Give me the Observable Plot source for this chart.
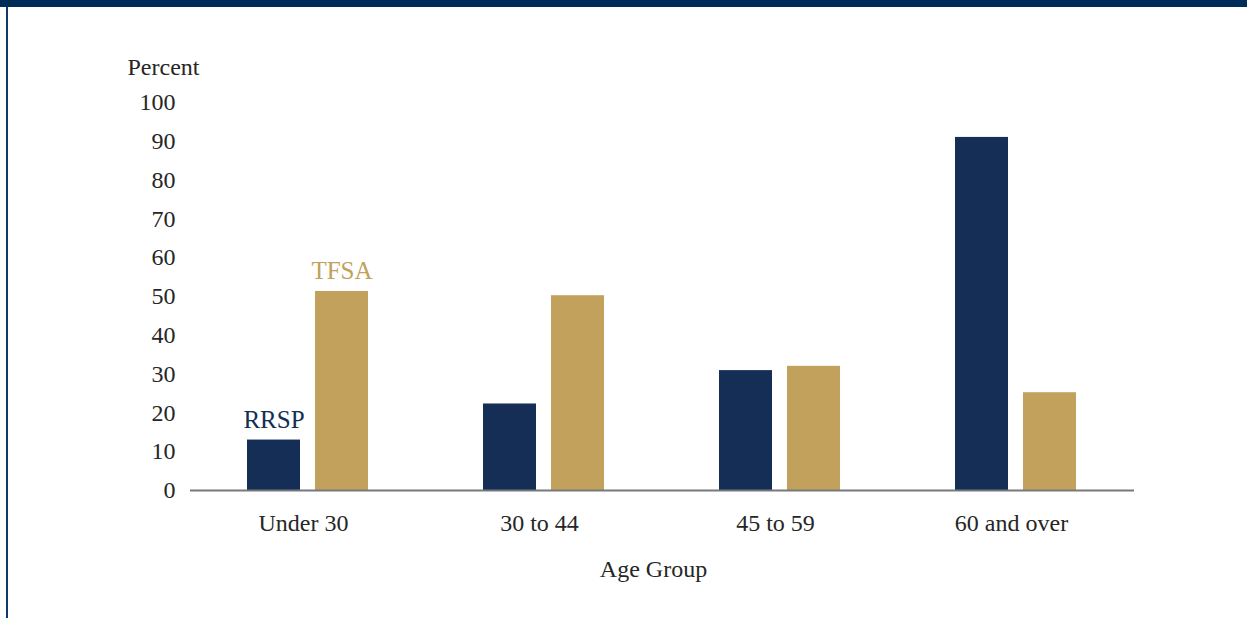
<!DOCTYPE html>
<html>
<head>
<meta charset="utf-8">
<script src="https://cdn.jsdelivr.net/npm/d3@7"></script>
<script src="https://cdn.jsdelivr.net/npm/@observablehq/plot@0.6"></script>
<style>
  html, body { margin: 0; padding: 0; background: #ffffff; }
  #wrap { position: relative; width: 1247px; height: 618px; overflow: hidden; }
  #topbar { position: absolute; left: 0; top: 0; width: 1247px; height: 7px; background: #002D57; z-index: 2; }
  #leftbar { position: absolute; left: 6px; top: 7px; width: 2px; height: 611px; background: #0B3A6E; z-index: 2; }
  #chart { position: absolute; left: 0; top: 0; }
</style>
</head>
<body>
<div id="wrap">
  <div id="topbar"></div>
  <div id="leftbar"></div>
  <div id="chart"></div>
</div>
<script>
const groups = ["Under 30", "30 to 44", "45 to 59", "60 and over"];
const series = ["RRSP", "TFSA"];
const rrspValues = [13, 22.3, 30.9, 91];
const tfsaValues = [51.3, 50.2, 32, 25.2];
const yTicks = [0, 10, 20, 30, 40, 50, 60, 70, 80, 90, 100];
const seriesColors = ["#142E55", "#C1A15B"];
const yLabel = "Percent";
const xLabel = "Age Group";

const data = [];
groups.forEach((g, i) => {
  data.push({group: g, series: "RRSP", value: rrspValues[i]});
  data.push({group: g, series: "TFSA", value: tfsaValues[i]});
});
const firstGroup = data.filter(d => d.group === groups[0]);

const font = "'Liberation Serif', 'Times New Roman', serif";

const chart = Plot.plot({
  width: 1247,
  height: 618,
  marginLeft: 190,
  marginRight: 113,
  marginTop: 102,
  marginBottom: 128,
  style: {
    fontFamily: font,
    fontSize: "24px",
    color: "#262626",
    background: "transparent"
  },
  fx: {domain: groups, padding: 0, label: null},
  x: {domain: series, paddingInner: 0.22, paddingOuter: 0.83, axis: null},
  y: {domain: [0, 100], ticks: yTicks, tickSize: 0, tickPadding: 15, label: null},
  color: {domain: series, range: seriesColors},
  marks: [
    Plot.axisFx({anchor: "bottom", tickSize: 0, tickPadding: 23, dx: -5, label: null}),
    Plot.barY(data, {fx: "group", x: "series", y: "value", fill: "series"}),
    Plot.ruleY([0], {stroke: "#77787C", strokeWidth: 2}),
    Plot.text(firstGroup, {
      fx: "group", x: "series", y: "value", text: "series", fill: "series",
      lineAnchor: "bottom", dy: -12, fontSize: 25
    }),
    Plot.text([yLabel], {
      fx: [groups[0]], frameAnchor: "top-left", textAnchor: "start",
      lineAnchor: "top", dx: -63, dy: -45, fill: "#262626"
    }),
    Plot.text([xLabel], {
      fx: [groups[1]], frameAnchor: "bottom-right", textAnchor: "middle",
      lineAnchor: "bottom", dx: -9, dy: 86, fill: "#262626"
    })
  ]
});
document.getElementById("chart").appendChild(chart);
</script>
</body>
</html>
